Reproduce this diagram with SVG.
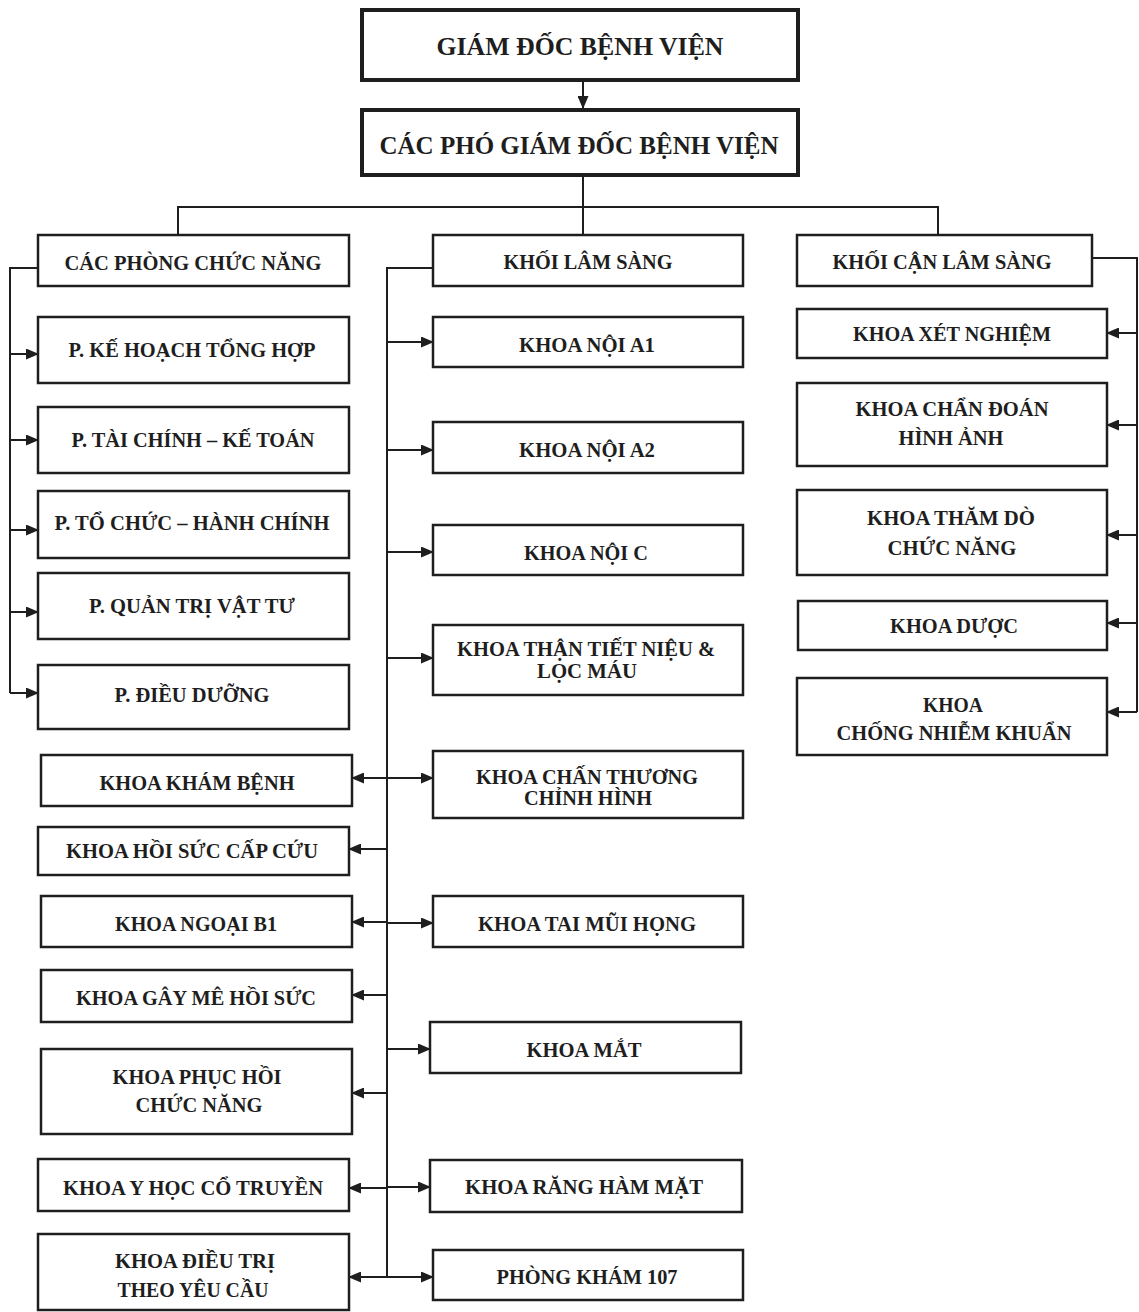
<svg xmlns="http://www.w3.org/2000/svg" width="1139" height="1312" viewBox="0 0 1139 1312">
<style>
.box{fill:#fff;stroke:#1e1e1e;stroke-width:2.5}
.boxb{fill:#fff;stroke:#1e1e1e;stroke-width:4}
.t{font-family:"Liberation Serif","Times New Roman",serif;font-weight:bold;font-size:20px;fill:#1e1e1e;text-anchor:middle}
.tb{font-family:"Liberation Serif","Times New Roman",serif;font-weight:bold;font-size:25px;fill:#1e1e1e;text-anchor:middle}
.ln{fill:none;stroke:#1e1e1e;stroke-width:2}
.ar{fill:none;stroke:#1e1e1e;stroke-width:2;marker-end:url(#ah)}
</style>
<defs>
<marker id="ah" markerUnits="userSpaceOnUse" markerWidth="13" markerHeight="11" refX="12" refY="5.5" orient="auto">
<path d="M0,0 L13,5.5 L0,11 Z" fill="#1e1e1e"/>
</marker>
</defs>
<rect width="1139" height="1312" fill="#fff"/>
<g id="connectors">
<line class="ar" x1="583" y1="80" x2="583" y2="108"/>
<polyline class="ln" points="583,175 583,207"/>
<polyline class="ln" points="178,235 178,207 938,207 938,235"/>
<line class="ln" x1="583" y1="207" x2="583" y2="235"/>
<polyline class="ln" points="38,268 10,268 10,693"/>
<line class="ar" x1="10" y1="354" x2="38" y2="354"/>
<line class="ar" x1="10" y1="440" x2="38" y2="440"/>
<line class="ar" x1="10" y1="530" x2="38" y2="530"/>
<line class="ar" x1="10" y1="612" x2="38" y2="612"/>
<line class="ar" x1="10" y1="693" x2="38" y2="693"/>
<polyline class="ln" points="433,268 387,268 387,1277"/>
<line class="ar" x1="387" y1="342" x2="433" y2="342"/>
<line class="ar" x1="387" y1="450" x2="433" y2="450"/>
<line class="ar" x1="387" y1="552" x2="433" y2="552"/>
<line class="ar" x1="387" y1="658" x2="433" y2="658"/>
<line class="ar" x1="387" y1="778" x2="433" y2="778"/>
<line class="ar" x1="387" y1="923" x2="433" y2="923"/>
<line class="ar" x1="387" y1="1049" x2="430" y2="1049"/>
<line class="ar" x1="387" y1="1187" x2="430" y2="1187"/>
<line class="ar" x1="387" y1="1277" x2="433" y2="1277"/>
<line class="ar" x1="387" y1="778" x2="352" y2="778"/>
<line class="ar" x1="387" y1="849" x2="349" y2="849"/>
<line class="ar" x1="387" y1="922" x2="352" y2="922"/>
<line class="ar" x1="387" y1="995" x2="352" y2="995"/>
<line class="ar" x1="387" y1="1093" x2="352" y2="1093"/>
<line class="ar" x1="387" y1="1188" x2="349" y2="1188"/>
<line class="ar" x1="387" y1="1277" x2="349" y2="1277"/>
<polyline class="ln" points="1092,258 1137,258 1137,712"/>
<line class="ar" x1="1137" y1="333" x2="1107" y2="333"/>
<line class="ar" x1="1137" y1="425" x2="1107" y2="425"/>
<line class="ar" x1="1137" y1="535" x2="1107" y2="535"/>
<line class="ar" x1="1137" y1="623" x2="1107" y2="623"/>
<line class="ar" x1="1137" y1="712" x2="1107" y2="712"/>
</g>
<g id="giam-doc"><rect class="boxb" x="362" y="10" width="436" height="70"/><text class="tb" x="580" y="55" textLength="287" lengthAdjust="spacingAndGlyphs">GIÁM ĐỐC BỆNH VIỆN</text></g>
<g id="pho-giam-doc"><rect class="boxb" x="362" y="110" width="436" height="65"/><text class="tb" x="579" y="154" textLength="399" lengthAdjust="spacingAndGlyphs">CÁC PHÓ GIÁM ĐỐC BỆNH VIỆN</text></g>
<g id="cac-phong"><rect class="box" x="38" y="235" width="311" height="51"/><text class="t" x="193" y="270" textLength="257" lengthAdjust="spacingAndGlyphs">CÁC PHÒNG CHỨC NĂNG</text></g>
<g id="p-khth"><rect class="box" x="38" y="317" width="311" height="66"/><text class="t" x="192" y="357" textLength="247" lengthAdjust="spacingAndGlyphs">P. KẾ HOẠCH TỔNG HỢP</text></g>
<g id="p-tckt"><rect class="box" x="38" y="407" width="311" height="66"/><text class="t" x="193" y="447" textLength="243" lengthAdjust="spacingAndGlyphs">P. TÀI CHÍNH – KẾ TOÁN</text></g>
<g id="p-tchc"><rect class="box" x="38" y="491" width="311" height="67"/><text class="t" x="192" y="530" textLength="275" lengthAdjust="spacingAndGlyphs">P. TỔ CHỨC – HÀNH CHÍNH</text></g>
<g id="p-qtvt"><rect class="box" x="38" y="573" width="311" height="66"/><text class="t" x="192" y="613" textLength="206" lengthAdjust="spacingAndGlyphs">P. QUẢN TRỊ VẬT TƯ</text></g>
<g id="p-dd"><rect class="box" x="38" y="665" width="311" height="64"/><text class="t" x="192" y="702" textLength="155" lengthAdjust="spacingAndGlyphs">P. ĐIỀU DƯỠNG</text></g>
<g id="khoa-kham-benh"><rect class="box" x="41" y="755" width="311" height="51"/><text class="t" x="197" y="790" textLength="195" lengthAdjust="spacingAndGlyphs">KHOA KHÁM BỆNH</text></g>
<g id="khoa-hscc"><rect class="box" x="38" y="827" width="311" height="48"/><text class="t" x="192" y="858" textLength="252" lengthAdjust="spacingAndGlyphs">KHOA HỒI SỨC  CẤP CỨU</text></g>
<g id="khoa-ngoai-b1"><rect class="box" x="41" y="896" width="311" height="51"/><text class="t" x="196" y="931" textLength="162" lengthAdjust="spacingAndGlyphs">KHOA NGOẠI B1</text></g>
<g id="khoa-gmhs"><rect class="box" x="41" y="970" width="311" height="52"/><text class="t" x="196" y="1005" textLength="240" lengthAdjust="spacingAndGlyphs">KHOA GÂY MÊ HỒI SỨC</text></g>
<g id="khoa-phcn"><rect class="box" x="41" y="1049" width="311" height="85"/><text class="t" x="197" y="1084" textLength="169" lengthAdjust="spacingAndGlyphs">KHOA PHỤC HỒI</text><text class="t" x="199" y="1112" textLength="127" lengthAdjust="spacingAndGlyphs">CHỨC NĂNG</text></g>
<g id="khoa-yhct"><rect class="box" x="38" y="1159" width="311" height="52"/><text class="t" x="193" y="1195" textLength="260" lengthAdjust="spacingAndGlyphs">KHOA Y HỌC CỔ TRUYỀN</text></g>
<g id="khoa-dtyc"><rect class="box" x="38" y="1234" width="311" height="76"/><text class="t" x="195" y="1268" textLength="160" lengthAdjust="spacingAndGlyphs">KHOA ĐIỀU TRỊ</text><text class="t" x="193" y="1297" textLength="151" lengthAdjust="spacingAndGlyphs">THEO YÊU CẦU</text></g>
<g id="khoi-lam-sang"><rect class="box" x="433" y="235" width="310" height="51"/><text class="t" x="588" y="269" textLength="169" lengthAdjust="spacingAndGlyphs">KHỐI LÂM SÀNG</text></g>
<g id="khoa-noi-a1"><rect class="box" x="433" y="317" width="310" height="50"/><text class="t" x="587" y="352" textLength="136" lengthAdjust="spacingAndGlyphs">KHOA NỘI A1</text></g>
<g id="khoa-noi-a2"><rect class="box" x="433" y="422" width="310" height="51"/><text class="t" x="587" y="457" textLength="136" lengthAdjust="spacingAndGlyphs">KHOA NỘI A2</text></g>
<g id="khoa-noi-c"><rect class="box" x="433" y="525" width="310" height="50"/><text class="t" x="586" y="560" textLength="124" lengthAdjust="spacingAndGlyphs">KHOA NỘI C</text></g>
<g id="khoa-than"><rect class="box" x="433" y="625" width="310" height="70"/><text class="t" x="586" y="656" textLength="258" lengthAdjust="spacingAndGlyphs">KHOA THẬN TIẾT NIỆU &amp;</text><text class="t" x="587" y="678" textLength="100" lengthAdjust="spacingAndGlyphs">LỌC MÁU</text></g>
<g id="khoa-ctch"><rect class="box" x="433" y="751" width="310" height="67"/><text class="t" x="587" y="784" textLength="222" lengthAdjust="spacingAndGlyphs">KHOA CHẤN THƯƠNG</text><text class="t" x="588" y="805" textLength="128" lengthAdjust="spacingAndGlyphs">CHỈNH HÌNH</text></g>
<g id="khoa-tmh"><rect class="box" x="433" y="896" width="310" height="51"/><text class="t" x="587" y="931" textLength="218" lengthAdjust="spacingAndGlyphs">KHOA TAI MŨI HỌNG</text></g>
<g id="khoa-mat"><rect class="box" x="430" y="1022" width="311" height="51"/><text class="t" x="584" y="1057" textLength="115" lengthAdjust="spacingAndGlyphs">KHOA MẮT</text></g>
<g id="khoa-rhm"><rect class="box" x="430" y="1160" width="312" height="52"/><text class="t" x="584" y="1194" textLength="238" lengthAdjust="spacingAndGlyphs">KHOA RĂNG HÀM MẶT</text></g>
<g id="phong-kham-107"><rect class="box" x="433" y="1250" width="310" height="50"/><text class="t" x="587" y="1284" textLength="181" lengthAdjust="spacingAndGlyphs">PHÒNG KHÁM 107</text></g>
<g id="khoi-can-lam-sang"><rect class="box" x="797" y="235" width="295" height="51"/><text class="t" x="942" y="269" textLength="219" lengthAdjust="spacingAndGlyphs">KHỐI CẬN LÂM SÀNG</text></g>
<g id="khoa-xet-nghiem"><rect class="box" x="797" y="309" width="310" height="49"/><text class="t" x="952" y="341" textLength="198" lengthAdjust="spacingAndGlyphs">KHOA XÉT NGHIỆM</text></g>
<g id="khoa-cdha"><rect class="box" x="797" y="383" width="310" height="83"/><text class="t" x="952" y="416" textLength="193" lengthAdjust="spacingAndGlyphs">KHOA CHẨN ĐOÁN</text><text class="t" x="951" y="445" textLength="105" lengthAdjust="spacingAndGlyphs">HÌNH ẢNH</text></g>
<g id="khoa-tdcn"><rect class="box" x="797" y="490" width="310" height="85"/><text class="t" x="951" y="525" textLength="168" lengthAdjust="spacingAndGlyphs">KHOA THĂM DÒ</text><text class="t" x="952" y="555" textLength="129" lengthAdjust="spacingAndGlyphs">CHỨC NĂNG</text></g>
<g id="khoa-duoc"><rect class="box" x="798" y="601" width="309" height="49"/><text class="t" x="954" y="633" textLength="128" lengthAdjust="spacingAndGlyphs">KHOA DƯỢC</text></g>
<g id="khoa-cnk"><rect class="box" x="797" y="678" width="310" height="77"/><text class="t" x="953" y="712" textLength="60" lengthAdjust="spacingAndGlyphs">KHOA</text><text class="t" x="954" y="740" textLength="235" lengthAdjust="spacingAndGlyphs">CHỐNG NHIỄM KHUẨN</text></g>
</svg>
